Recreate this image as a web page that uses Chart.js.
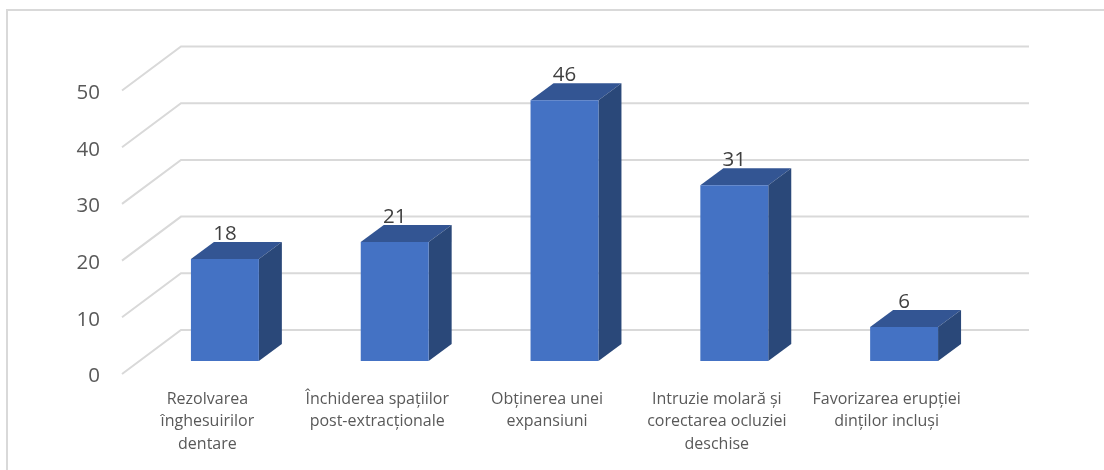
<!DOCTYPE html>
<html lang="ro">
<head>
<meta charset="utf-8">
<title>Obiective</title>
<script src="https://cdn.jsdelivr.net/npm/chart.js@4"></script>
<style>
  html, body { margin: 0; padding: 0; background: #fff; }
  #wrap { position: absolute; left: 6px; top: 9px; width: 1098px; height: 461px; border-left: 2px solid #d9d9d9; border-top: 2px solid #d9d9d9; box-sizing: border-box; }
  canvas { position: absolute; left: 0; top: 0; }
</style>
</head>
<body>
<div id="wrap"></div>
<canvas id="chart" width="1104" height="470"></canvas>
<script>
const categories = [
  ['Rezolvarea', 'înghesuirilor', 'dentare'],
  ['Închiderea spaţiilor', 'post-extracţionale'],
  ['Obţinerea unei', 'expansiuni'],
  ['Intruzie molară şi', 'corectarea ocluziei', 'deschise'],
  ['Favorizarea erupţiei', 'dinţilor incluşi']
];
const values = [18, 21, 46, 31, 6];
const yTicks = [0, 10, 20, 30, 40, 50];

const FRONT = '#4472c4';
const TOP = '#335593';
const SIDE = '#2a4879';
const GRID = '#d9d9d9';

// depth of the bars and of the floor, in px
const BAR_DX = 23, BAR_DY = 17;
const WALL_LEFT = 181, WALL_RIGHT = 1029, FLOOR_LEFT = 122;
const WALL_UP = 31, FLOOR_DOWN = 13;

function poly(ctx, pts, fill) {
  ctx.beginPath();
  pts.forEach((p, i) => i ? ctx.lineTo(p[0], p[1]) : ctx.moveTo(p[0], p[1]));
  ctx.closePath();
  ctx.fillStyle = fill;
  ctx.fill();
}

const depthPlugin = {
  id: 'depth',
  // wall and floor lines, one per tick
  beforeDatasetsDraw(chart) {
    const { ctx } = chart;
    const y = chart.scales.y;
    ctx.save();
    ctx.strokeStyle = GRID;
    ctx.lineWidth = 2;
    yTicks.forEach((t) => {
      const py = y.getPixelForValue(t);
      ctx.beginPath();
      ctx.moveTo(FLOOR_LEFT, py + FLOOR_DOWN);
      ctx.lineTo(WALL_LEFT, py - WALL_UP);
      ctx.lineTo(WALL_RIGHT, py - WALL_UP);
      ctx.stroke();
    });
    // top and side faces go behind the front rectangles
    const base = y.getPixelForValue(0);
    chart.getDatasetMeta(0).data.forEach((bar) => {
      const l = bar.x - bar.width / 2, r = bar.x + bar.width / 2, t = bar.y;
      poly(ctx, [[l, t], [l + BAR_DX, t - BAR_DY], [r + BAR_DX, t - BAR_DY], [r, t]], TOP);
      poly(ctx, [[r, t], [r + BAR_DX, t - BAR_DY], [r + BAR_DX, base - BAR_DY], [r, base]], SIDE);
    });
    ctx.restore();
  },
  afterDatasetsDraw(chart) {
    const { ctx } = chart;
    ctx.save();
    ctx.font = '20.5px "Open Sans"';
    ctx.fillStyle = '#404040';
    ctx.textAlign = 'center';
    ctx.textBaseline = 'alphabetic';
    chart.getDatasetMeta(0).data.forEach((bar, i) => {
      ctx.fillText(String(values[i]), bar.x, bar.y - BAR_DY - 2);
    });
    ctx.restore();
  }
};

new Chart(document.getElementById('chart'), {
  type: 'bar',
  data: {
    labels: categories,
    datasets: [{
      data: values,
      backgroundColor: FRONT,
      borderWidth: 0,
      barPercentage: 0.4,
      categoryPercentage: 1
    }]
  },
  options: {
    responsive: false,
    animation: false,
    layout: { padding: { left: 0, right: 115, top: 77.5, bottom: 0 } },
    plugins: { legend: { display: false }, tooltip: { enabled: false } },
    scales: {
      x: {
        grid: { display: false },
        border: { display: false },
        afterFit(s) { s.height = 109; },
        ticks: {
          maxRotation: 0,
          autoSkip: false,
          padding: 19,
          labelOffset: -17.5,
          color: '#595959',
          font: { family: '"Open Sans"', size: 16, lineHeight: 1.4 }
        }
      },
      y: {
        min: 0,
        max: 50,
        grid: { display: false },
        border: { display: false },
        afterFit(s) { s.width = 140; },
        ticks: {
          stepSize: 10,
          padding: 32,
          labelOffset: 15.5,
          color: '#595959',
          font: { family: '"Open Sans"', size: 20.5 }
        }
      }
    }
  },
  plugins: [depthPlugin]
});
</script>
</body>
</html>
